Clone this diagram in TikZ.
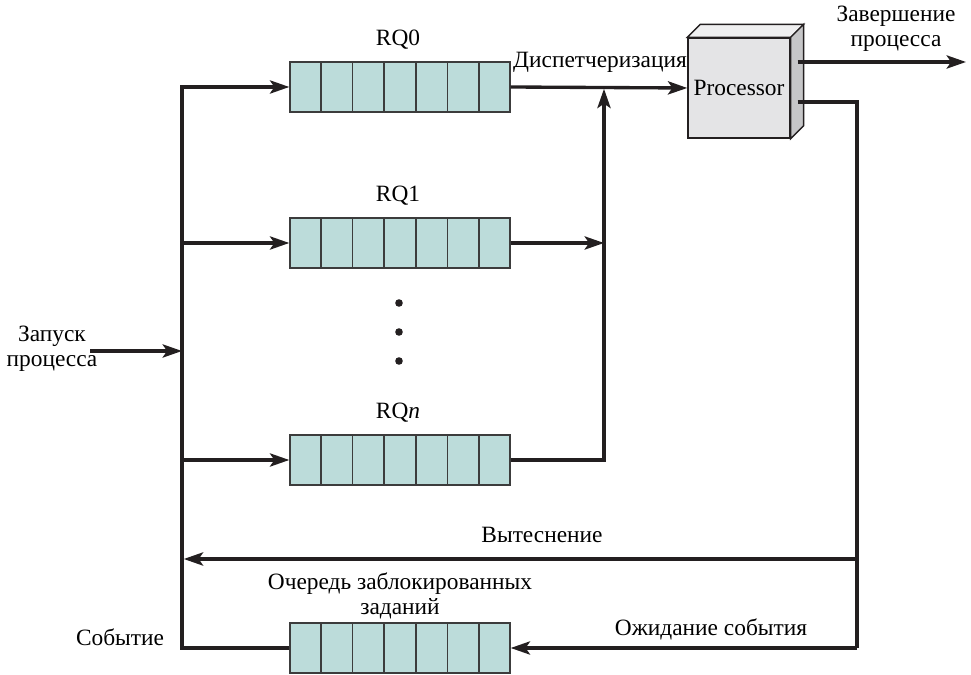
\documentclass[tikz,border=0pt]{standalone}
\usepackage{fontspec}
\setmainfont{Liberation Serif}
\usepackage{tikz}
\usetikzlibrary{arrows.meta,positioning,calc}
\definecolor{Ink}{HTML}{231F20}
\definecolor{Cell}{HTML}{BCDCDA}
\definecolor{CellLine}{HTML}{3C3C3C}
\definecolor{Front}{HTML}{E4E4E6}
\definecolor{Top}{HTML}{EFEFF0}
\definecolor{Side}{HTML}{C6C6C8}

\begin{document}
\begin{tikzpicture}[x=0.02cm,y=-0.02cm,
    font=\rmfamily\fontsize{13.3}{14.5}\selectfont,
    queue/.style={draw=CellLine,fill=Cell,line width=0.8pt,minimum width=4.4cm,
      minimum height=1cm,inner sep=0pt},
    cpu/.style={draw=Ink,fill=Front,line width=0.8pt,minimum width=2.04cm,
      minimum height=2cm,inner sep=0pt},
    wire/.style={draw=Ink,line width=1.9pt},
    arr/.style={wire,-{Stealth[length=11pt,width=7.5pt,inset=2.5pt]}}
  ]
  \useasboundingbox (0,0) rectangle (971,675);

  \node[queue] (q0) at (400,87) {};
  \node[queue] (q1) at (400,243) {};
  \node[queue] (qn) at (400,460) {};
  \node[queue] (qb) at (400,648) {};
  \foreach \q in {q0,q1,qn,qb}
    \foreach \i in {1,...,6}
      \draw[CellLine,line width=0.8pt] ($(\q.north west)!\i/7!(\q.north east)$)
        -- ($(\q.south west)!\i/7!(\q.south east)$);

  \node at (398,40) {RQ0};
  \node at (398,196) {RQ1};
  \node at (398,413) {RQ\textit{n}};
  \foreach \y in {303,332,361}
    \fill[Ink] (399,\y) circle (3.8);

  \node[cpu] (proc) at (739,88) {Processor};
  \filldraw[draw=Ink,fill=Top,line width=0.8pt] (proc.north west) -- ++(13,-13)
    -- ($(proc.north east)+(13,-13)$) -- (proc.north east) -- cycle;
  \filldraw[draw=Ink,fill=Side,line width=0.8pt] (proc.north east) -- ++(13,-13)
    -- ($(proc.south east)+(13,-13)$) -- (proc.south east) -- cycle;

  \coordinate (bl) at (182,648);
  \coordinate (mg) at (604,87);
  \coordinate (in) at (90,351);
  \coordinate (o1) at ($(proc.east)+(7,-26)$);
  \coordinate (o2) at ($(proc.east)+(7,14)$);
  \coordinate (done) at (966,62);
  \coordinate (rc) at (857,648);
  \coordinate (pr) at (857,559);

  \draw[arr] (qb.west) -- (bl) |- (q0.west);
  \draw[arr] (bl |- q1.west) -- (q1.west);
  \draw[arr] (bl |- qn.west) -- (qn.west);
  \draw[arr] (in) -- (bl |- in);
  \draw[arr] (q0.east) -- (proc.west);
  \draw[arr] (q1.east) -- (q1.east -| mg);
  \draw[arr] (qn.east) -| ([yshift=-1pt]mg);
  \draw[arr] (o1) -- (done);
  \draw[wire] (o2) -| (rc);
  \draw[arr] (rc) -- (qb.east);
  \draw[arr] (pr) -- ([xshift=1pt]bl |- pr);

  \node[align=center] at (52,349) {Запуск\\процесса};
  \node at (600,62) {Диспетчеризация};
  \node[align=center] at (896,29) {Завершение\\процесса};
  \node at (542,535) {Вытеснение};
  \node at (711,629) {Ожидание события};
  \node at (120,637) {Событие};
  \node[align=center] at (400,596) {Очередь заблокированных\\заданий};
\end{tikzpicture}
\end{document}
